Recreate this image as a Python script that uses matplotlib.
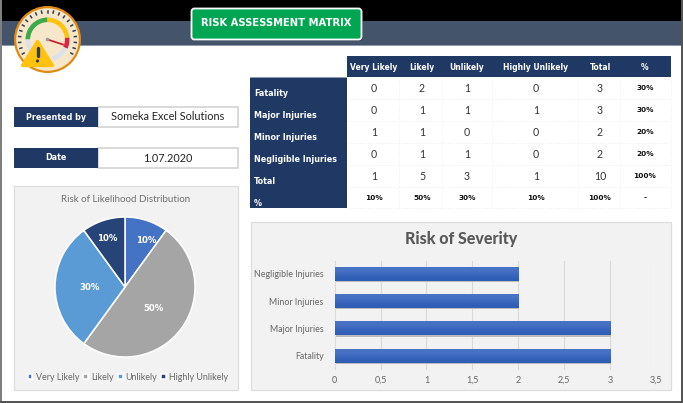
import numpy as np
import matplotlib
matplotlib.use("Agg")
import matplotlib.pyplot as plt
from matplotlib.patches import Rectangle, FancyBboxPatch, Circle, Wedge, Polygon

W, H = 683, 403
NAVY = "#1F3864"
SANS = "Lato"
HEAD = "DejaVu Sans"

# data
severity = ["Fatality", "Major Injuries", "Minor Injuries", "Negligible Injuries"]
likelihood = ["Very Likely", "Likely", "Unlikely", "Highly Unlikely"]
columns = likelihood + ["Total", "%"]
row_labels = severity + ["Total", "%"]
matrix = [
    ["0", "2", "1", "0", "3", "30%"],
    ["0", "1", "1", "1", "3", "30%"],
    ["1", "1", "0", "0", "2", "20%"],
    ["0", "1", "1", "0", "2", "20%"],
    ["1", "5", "3", "1", "10", "100%"],
    ["10%", "50%", "30%", "10%", "100%", "-"],
]
pie_values = [10, 50, 30, 10]
pie_colors = ["#4472C4", "#A5A5A5", "#5B9BD5", "#264478"]
severity_totals = [3, 3, 2, 2]
x_ticks = [0, 0.5, 1, 1.5, 2, 2.5, 3, 3.5]
x_tick_labels = ["0", "0,5", "1", "1,5", "2", "2,5", "3", "3,5"]

fig = plt.figure(figsize=(W / 100, H / 100), dpi=100, facecolor="white")


def px_axes(x0, y0, x1, y1, **kw):
    return fig.add_axes([x0 / W, 1 - y1 / H, (x1 - x0) / W, (y1 - y0) / H], **kw)


bg = fig.add_axes([0, 0, 1, 1], zorder=0)
bg.set_xlim(0, W)
bg.set_ylim(H, 0)
bg.axis("off")


def rect(x0, y0, x1, y1, fc, ec="none", lw=0, z=1, ax=bg):
    ax.add_patch(Rectangle((x0, y0), x1 - x0, y1 - y0, fc=fc, ec=ec, lw=lw, zorder=z))


# page frame and header
rect(0, 0, W, 21, "black")
rect(0, 21, W, 45, "#44546A")
rect(0, 45, W, 46, "#8E99AB")
rect(0, 0, 2, H, "#7F7F7F", z=6)
rect(681, 0, W, H, "#555555", z=6)
rect(0, 401, W, H, "#555555", z=6)

# title button
bg.add_patch(FancyBboxPatch((193, 10), 170, 31, boxstyle="round,pad=0,rounding_size=3",
                            fc="#2B3645", ec="none", zorder=2, alpha=0.6))
bg.add_patch(FancyBboxPatch((191.5, 8.5), 170, 31, boxstyle="round,pad=0,rounding_size=3",
                            fc="#00A651", ec="white", lw=1.3, zorder=3))
bg.text(276.5, 23.5, "RISK ASSESSMENT MATRIX", color="white", ha="center", va="center",
        fontsize=7.2, fontweight="bold", family=HEAD, zorder=4)

# gauge icon
cx, cy = 47.5, 39.5
Z = 5
bg.add_patch(Circle((cx, cy), 32.4, fc="#F6E7CB", ec="#E08A13", lw=1.6, zorder=Z))


def arc(a0, a1, color):
    bg.add_patch(Wedge((cx, cy), 22, -a1, -a0, width=4.6, fc=color, ec="none", zorder=Z))


arc(90, 180, "#3CAA4B")
arc(5, 90, "#FFC20E")
arc(-25, 5, "#D7263D")
arc(-75, -25, "#DDE2EA")
arc(180, 240, "#DDE2EA")
for a in np.deg2rad(np.arange(-30, 215, 12)):
    c, s = np.cos(a), -np.sin(a)
    bg.plot([cx + 27 * c, cx + 29 * c], [cy + 27 * s, cy + 29 * s], color="#2F3E55", lw=1.1, zorder=Z)
bg.plot([cx, cx + 15.5], [cy, cy + 5], color="#C8202F", lw=1.3, zorder=Z)
bg.add_patch(Circle((cx, cy), 1.8, fc="#9A9A9A", ec="none", zorder=Z))
bg.add_patch(Polygon([(37.5, 41.5), (22.5, 65.5), (52.5, 65.5)], closed=True, fc="#FFC20E",
                     ec="#FFC20E", lw=2.4, joinstyle="round", zorder=Z))
bg.plot([37.5, 37.5], [48, 56], color="#2F3E55", lw=2.4, solid_capstyle="round", zorder=Z)
bg.add_patch(Circle((37.5, 61), 1.6, fc="#2F3E55", ec="none", zorder=Z))

# info boxes
for y0, label, value in [(107, "Presented by", "Someka Excel Solutions"), (148, "Date", "1.07.2020")]:
    y1 = y0 + 20
    rect(98, y0, 237.5, y1, "white", ec="#D0D0D0", lw=1.1)
    rect(14, y0, 98, y1, NAVY, z=2)
    bg.text(56, y0 + 10, label, color="white", ha="center", va="center", fontsize=5.8,
            fontweight="bold", family=HEAD, zorder=3)
    bg.text(167.5, y0 + 10, value, color="#222222", ha="center", va="center", fontsize=7.8,
            family=SANS, zorder=3)

# matrix table
col_edges = [347, 399, 442, 492, 578, 620, 671]
col_centers = [374, 422, 467, 536, 600, 645]
row_edges = [77, 99, 121, 143, 165, 187, 208]
rect(347, 56, 671, 77, NAVY)
rect(250, 77, 347, 208, NAVY)
rect(250, 77, 347, 78, "#8E99AB", z=2)
for xc, name in zip(col_centers, columns):
    bg.text(xc, 67, name, color="white", ha="center", va="center", fontsize=5.5,
            fontweight="bold", family=HEAD, zorder=3)
for e in row_edges[1:]:
    bg.plot([347, 671], [e, e], color="#EEEEEE", lw=0.7, ls=":", zorder=1)
for e in col_edges[1:]:
    bg.plot([e, e], [77, 208], color="#F0F0F0", lw=0.7, ls=":", zorder=1)
for i, (name, row) in enumerate(zip(row_labels, matrix)):
    bg.text(254, row_edges[i] + 16, name, color="white", ha="left", va="center", fontsize=5.8,
            fontweight="bold", family=HEAD, zorder=3)
    yc = row_edges[i] + 11.5
    for j, val in enumerate(row):
        bold = j == 5 or i == 5
        bg.text(col_centers[j], yc, val, color="#111111" if bold else "#333333", ha="center",
                va="center", fontsize=5.3 if bold else 7.6,
                fontweight="bold" if bold else "normal", family=HEAD if bold else SANS, zorder=3)

# chart panels
rect(14, 186, 238, 390, "#F2F2F2", ec="#DDDDDD", lw=0.9)
rect(250.5, 222, 671, 390, "#F2F2F2", ec="#DDDDDD", lw=0.9)

# pie chart
bg.text(125.5, 199.5, "Risk of Likelihood Distribution", color="#707070", ha="center", va="center",
        fontsize=7, family=SANS, zorder=3)
pie_ax = px_axes(55, 217, 195, 357, zorder=2)
wedges, _ = pie_ax.pie(pie_values, colors=pie_colors, startangle=90, counterclock=False, radius=1,
                       wedgeprops=dict(edgecolor="white", linewidth=1.1))
pie_ax.set_xlim(-1, 1)
pie_ax.set_ylim(-1, 1)
label_offsets = [(0.31, 0.67), (0.41, -0.31), (-0.5, 0.0), (-0.26, 0.7)]
for v, (dx, dy) in zip(pie_values, label_offsets):
    pie_ax.text(dx, dy, f"{v}%", color="white", ha="center", va="center", fontsize=6.2,
                fontweight="bold", family=HEAD)
leg = fig.legend(wedges, likelihood, loc="center", bbox_to_anchor=(128 / W, 1 - 377 / H), ncol=4,
                 frameon=False, labelcolor="#666666", handlelength=0.55, handleheight=0.55,
                 handletextpad=0.35, columnspacing=0.45, borderpad=0,
                 prop=dict(family=SANS, size=6.4))
leg.set_zorder(3)

# bar chart
bg.text(461, 239, "Risk of Severity", color="#595959", ha="center", va="center", fontsize=11.5,
        fontweight="black", family=SANS, zorder=3)
bar_ax = px_axes(334.7, 260.7, 655.7, 370, zorder=2)
bar_ax.patch.set_alpha(0)
bars = bar_ax.barh(severity, severity_totals, height=0.5, color="#3D68BF", zorder=2)
grad = np.array([[0.0], [0.5], [1.0]])
cmap = matplotlib.colors.LinearSegmentedColormap.from_list("g", ["#2F5DB5", "#3D68BF", "#4A74C6"])
for b in bars:
    x0, y0, w, h = b.get_x(), b.get_y(), b.get_width(), b.get_height()
    bar_ax.add_patch(Rectangle((x0 + 0.01, y0 - 0.05), w, h + 0.05, fc="#BBBBBB", ec="none", zorder=1.5))
    bar_ax.imshow(grad, extent=(x0, x0 + w, y0, y0 + h), aspect="auto", cmap=cmap, zorder=2.5,
                  interpolation="bicubic", origin="lower")
bar_ax.set_xlim(0, 3.5)
bar_ax.set_ylim(-0.52, 3.48)
bar_ax.set_xticks(x_ticks)
bar_ax.set_xticklabels(x_tick_labels, family=SANS, fontsize=6.5, color="#666666")
bar_ax.tick_params(axis="x", length=0, pad=4)
bar_ax.tick_params(axis="y", length=0, pad=8, labelsize=6.4, labelcolor="#666666")
for t in bar_ax.get_yticklabels():
    t.set_family(SANS)
bar_ax.grid(axis="x", color="#D9D9D9", lw=0.8, zorder=0)
bar_ax.set_axisbelow(True)
for s in bar_ax.spines.values():
    s.set_visible(False)

fig.savefig("out.png", dpi=100)
